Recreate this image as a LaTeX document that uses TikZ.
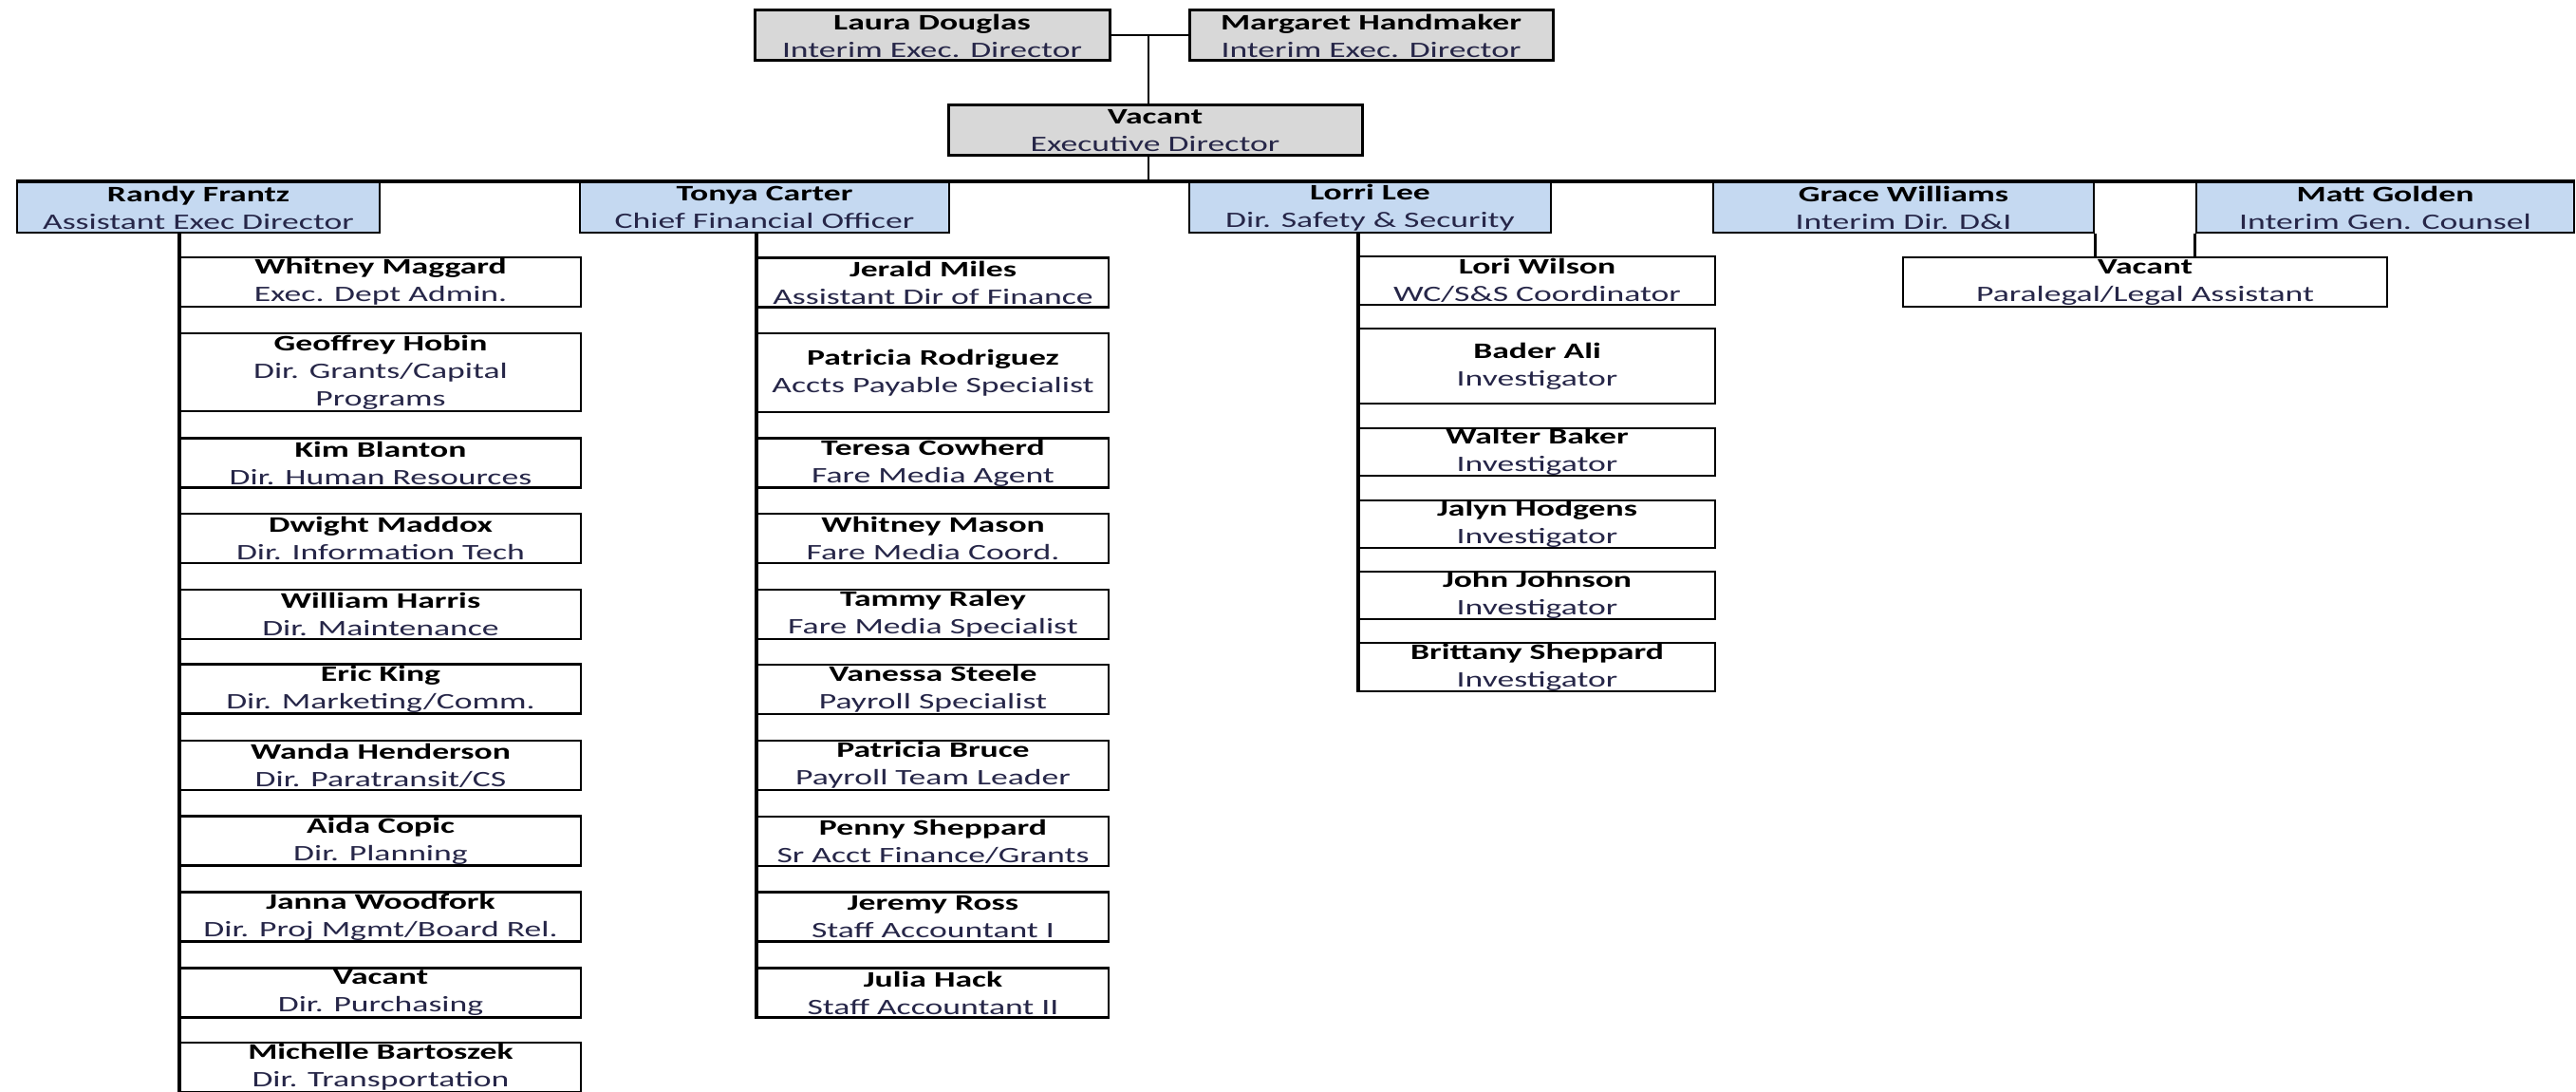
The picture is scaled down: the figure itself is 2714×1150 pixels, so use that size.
\documentclass[tikz,border=0pt]{standalone}
\usepackage{fontspec}
\usepackage{tikz}
\usetikzlibrary{positioning, calc}
\newfontfamily\chartfont{Carlito}[FakeStretch=1.53]
\definecolor{headgrey}{RGB}{216,216,216}
\definecolor{deptblue}{RGB}{197,217,241}
\definecolor{titletext}{RGB}{38,38,72}
\newcommand{\pname}[2]{\textbf{#1}\\{\color{titletext}#2}}
\tikzset{
    headbox/.style = {rectangle, draw, fill=headgrey, line width=3pt, minimum height=53pt,
                        inner sep=0pt, align=center},
    deptbox/.style = {rectangle, draw, fill=deptblue, line width=2.5pt, minimum height=53pt,
                        inner sep=0pt, align=center},
    staffbox/.style = {rectangle, draw, fill=white, line width=2.5pt, minimum height=52pt,
                        inner sep=0pt, align=center},
    link/.style = {line width=4.5pt},
    thinlink/.style = {line width=2pt}
}

\begin{document}
\begin{tikzpicture}[x=1pt, y=-1pt, font=\chartfont\fontsize{23.3pt}{29pt}\selectfont]
		\useasboundingbox (0,0) rectangle (2714,1150);
		% top
		\node (laura) [headbox, minimum width=374pt] at (982,37.5) {\pname{Laura Douglas}{Interim Exec. Director}};
		\node (margaret) [headbox, minimum width=383pt] at (1444.5,37.5) {\pname{Margaret Handmaker}{Interim Exec. Director}};
		\node (ed) [headbox, minimum width=436pt] at (1217,137.5) {\pname{Vacant}{Executive Director}};
		\coordinate (topjoin) at (1210,37.5);
		% second row
		\node (randy) [deptbox, minimum width=382pt] at (209,218.5) {\pname{Randy Frantz}{Assistant Exec Director}};
		\node (tonya) [deptbox, minimum width=389pt] at (805.5,218.5) {\pname{Tonya Carter}{Chief Financial Officer}};
		\node (lorri) [deptbox, minimum width=381pt] at (1443.5,218.5) {\pname{Lorri Lee}{Dir. Safety \& Security}};
		\node (grace) [deptbox, minimum width=401pt] at (2005.5,218.5) {\pname{Grace Williams}{Interim Dir. D\&I}};
		\node (matt) [deptbox, minimum width=398pt] at (2513,218.5) {\pname{Matt Golden}{Interim Gen. Counsel}};
		\node (legal) [staffbox, minimum width=510pt] at (2260,297) {\pname{Vacant}{Paralegal/Legal Assistant}};
		% randy column
		\node (ra1) [staffbox, minimum width=422pt] at (401,297) {\pname{Whitney Maggard}{Exec. Dept Admin.}};
		\node (ra2) [staffbox, minimum width=422pt, minimum height=82pt] at (401,392) {\textbf{Geoffrey Hobin}\\{\color{titletext}Dir. Grants/Capital}\\{\color{titletext}Programs}};
		\node (ra3) [staffbox, minimum width=422pt] at (401,487.5) {\pname{Kim Blanton}{Dir. Human Resources}};
		\node (ra4) [staffbox, minimum width=422pt] at (401,567) {\pname{Dwight Maddox}{Dir. Information Tech}};
		\node (ra5) [staffbox, minimum width=422pt] at (401,647) {\pname{William Harris}{Dir. Maintenance}};
		\node (ra6) [staffbox, minimum width=422pt] at (401,725.5) {\pname{Eric King}{Dir. Marketing/Comm.}};
		\node (ra7) [staffbox, minimum width=422pt] at (401,806) {\pname{Wanda Henderson}{Dir. Paratransit/CS}};
		\node (ra8) [staffbox, minimum width=422pt] at (401,885.5) {\pname{Aida Copic}{Dir. Planning}};
		\node (ra9) [staffbox, minimum width=422pt] at (401,965.5) {\pname{Janna Woodfork}{Dir. Proj Mgmt/Board Rel.}};
		\node (ra10) [staffbox, minimum width=422pt] at (401,1045.5) {\pname{Vacant}{Dir. Purchasing}};
		\node (ra11) [staffbox, minimum width=422pt] at (401,1124) {\pname{Michelle Bartoszek}{Dir. Transportation}};
		% tonya column
		\node (to1) [staffbox, minimum width=370pt] at (983,297.5) {\pname{Jerald Miles}{Assistant Dir of Finance}};
		\node (to2) [staffbox, minimum width=370pt, minimum height=83pt] at (983,392.5) {\pname{Patricia Rodriguez}{Accts Payable Specialist}};
		\node (to3) [staffbox, minimum width=370pt] at (983,487.5) {\pname{Teresa Cowherd}{Fare Media Agent}};
		\node (to4) [staffbox, minimum width=370pt] at (983,567) {\pname{Whitney Mason}{Fare Media Coord.}};
		\node (to5) [staffbox, minimum width=370pt] at (983,647) {\pname{Tammy Raley}{Fare Media Specialist}};
		\node (to6) [staffbox, minimum width=370pt] at (983,726) {\pname{Vanessa Steele}{Payroll Specialist}};
		\node (to7) [staffbox, minimum width=370pt] at (983,806) {\pname{Patricia Bruce}{Payroll Team Leader}};
		\node (to8) [staffbox, minimum width=370pt] at (983,886) {\pname{Penny Sheppard}{Sr Acct Finance/Grants}};
		\node (to9) [staffbox, minimum width=370pt] at (983,965.5) {\pname{Jeremy Ross}{Staff Accountant I}};
		\node (to10) [staffbox, minimum width=370pt] at (983,1045.5) {\pname{Julia Hack}{Staff Accountant II}};
		% lorri column
		\node (lo1) [staffbox, minimum width=375pt, minimum height=51pt] at (1619.5,295.5) {\pname{Lori Wilson}{WC/S\&S Coordinator}};
		\node (lo2) [staffbox, minimum width=375pt, minimum height=79pt] at (1619.5,385.5) {\pname{Bader Ali}{Investigator}};
		\node (lo3) [staffbox, minimum width=375pt, minimum height=50pt] at (1619.5,476) {\pname{Walter Baker}{Investigator}};
		\node (lo4) [staffbox, minimum width=375pt, minimum height=50pt] at (1619.5,552) {\pname{Jalyn Hodgens}{Investigator}};
		\node (lo5) [staffbox, minimum width=375pt, minimum height=50pt] at (1619.5,627) {\pname{John Johnson}{Investigator}};
		\node (lo6) [staffbox, minimum width=375pt, minimum height=51pt] at (1619.5,702.5) {\pname{Brittany Sheppard}{Investigator}};
		% connectors
		\draw [thinlink] (laura) -- (margaret);
		\draw [thinlink] (topjoin) -- (topjoin |- ed.north);
		\draw [thinlink] (ed.south -| topjoin) -- (topjoin |- randy.north);
		\draw [line width=4pt] (randy.north west) -- (matt.north east);
		\draw [link] (randy.south -| ra1.west) -- (ra11.south west);
		\draw [link] (tonya.south -| to1.west) -- (to10.south west);
		\draw [link] (lorri.south -| lo1.west) -- (lo6.south west);
		\draw [line width=3pt] (grace.south east) -- (grace.south east |- legal.north);
		\draw [line width=3pt] (matt.south west) -- (matt.south west |- legal.north);
	\end{tikzpicture}
\end{document}
